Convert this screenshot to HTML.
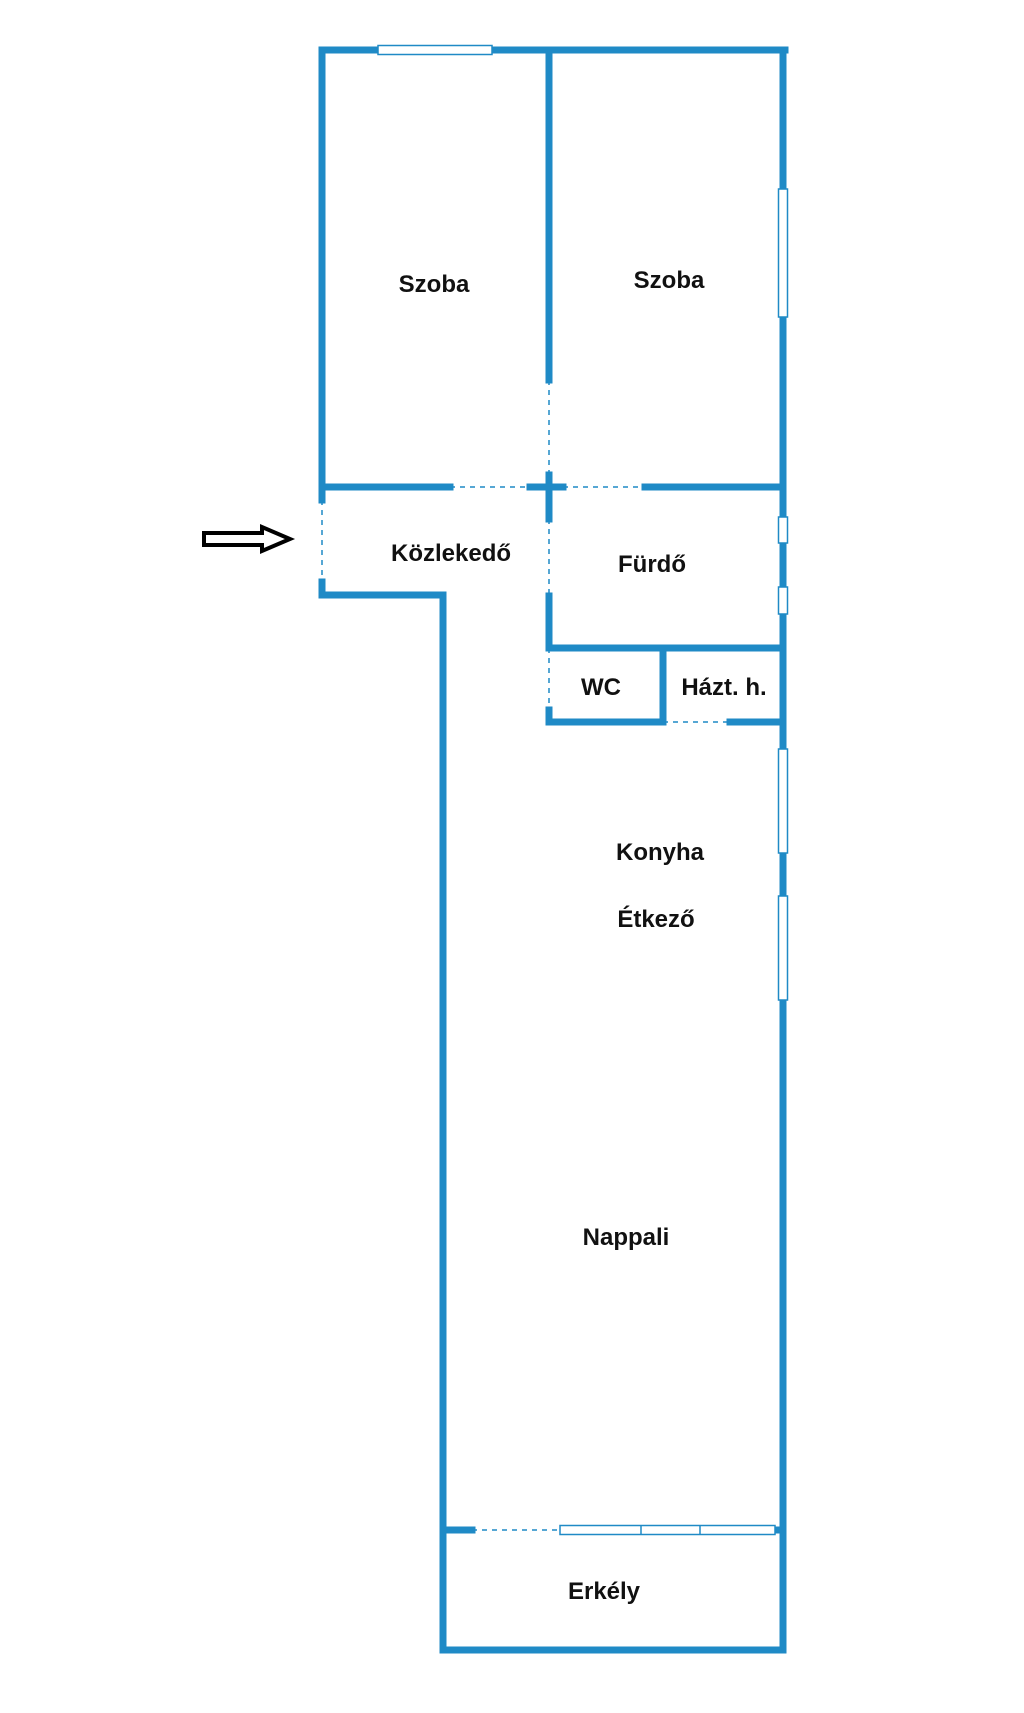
<!DOCTYPE html>
<html><head><meta charset="utf-8"><style>
html,body{margin:0;padding:0;background:#fff;}
svg{display:block;}
text{font-family:"Liberation Sans",Arial,sans-serif;font-weight:bold;font-size:24px;fill:#111;text-anchor:middle;}
</style></head><body>
<svg width="1024" height="1713" viewBox="0 0 1024 1713" xmlns="http://www.w3.org/2000/svg">
<g stroke="#1f8ac6" stroke-width="7" fill="none" stroke-linecap="square">
<line x1="322" y1="50" x2="785" y2="50"/>
<line x1="322" y1="50" x2="322" y2="500"/>
<line x1="322" y1="582" x2="322" y2="595"/>
<line x1="322" y1="595" x2="443" y2="595"/>
<line x1="443" y1="595" x2="443" y2="1650"/>
<line x1="443" y1="1650" x2="783" y2="1650"/>
<line x1="783" y1="50" x2="783" y2="1650"/>
<line x1="549" y1="50" x2="549" y2="380"/>
<line x1="549" y1="475" x2="549" y2="519"/>
<line x1="549" y1="596" x2="549" y2="648"/>
<line x1="322" y1="487" x2="450" y2="487"/>
<line x1="530" y1="487" x2="563" y2="487"/>
<line x1="645" y1="487" x2="779" y2="487"/>
<line x1="549" y1="648" x2="783" y2="648"/>
<line x1="663" y1="648" x2="663" y2="722"/>
<line x1="549" y1="722" x2="663" y2="722"/>
<line x1="549" y1="710" x2="549" y2="722"/>
<line x1="730" y1="722" x2="783" y2="722"/>
<line x1="443" y1="1530" x2="472" y2="1530"/>
<line x1="775" y1="1530" x2="783" y2="1530"/>
</g>
<g stroke="#1f8ac6" stroke-width="1.5" stroke-dasharray="5,5" fill="none">
<line x1="322" y1="500" x2="322" y2="582"/>
<line x1="450" y1="487" x2="530" y2="487"/>
<line x1="563" y1="487" x2="645" y2="487"/>
<line x1="549" y1="380" x2="549" y2="475"/>
<line x1="549" y1="519" x2="549" y2="596"/>
<line x1="549" y1="648" x2="549" y2="710"/>
<line x1="663" y1="722" x2="730" y2="722"/>
<line x1="472" y1="1530" x2="560" y2="1530"/>
</g>
<g stroke="#1f8ac6" stroke-width="1.5" fill="#fff">
<rect x="378" y="45.5" width="114" height="9"/>
<rect x="778.5" y="189" width="9" height="128"/>
<rect x="778.5" y="517" width="9" height="26"/>
<rect x="778.5" y="587" width="9" height="27"/>
<rect x="778.5" y="749" width="9" height="104"/>
<rect x="778.5" y="896" width="9" height="104"/>
<rect x="560" y="1525.5" width="215" height="9"/>
<line x1="641" y1="1526" x2="641" y2="1534"/>
<line x1="700" y1="1526" x2="700" y2="1534"/>
</g>
<polygon points="204,533 262,533 262,527 290,539 262,551 262,545 204,545" fill="#fff" stroke="#000" stroke-width="4"/>
<text x="434" y="292">Szoba</text>
<text x="669" y="288">Szoba</text>
<text x="451" y="561">Közlekedő</text>
<text x="652" y="572">Fürdő</text>
<text x="601" y="695">WC</text>
<text x="724" y="695">Házt. h.</text>
<text x="660" y="860">Konyha</text>
<text x="656" y="927">Étkező</text>
<text x="626" y="1245">Nappali</text>
<text x="604" y="1599">Erkély</text>
</svg>
</body></html>
